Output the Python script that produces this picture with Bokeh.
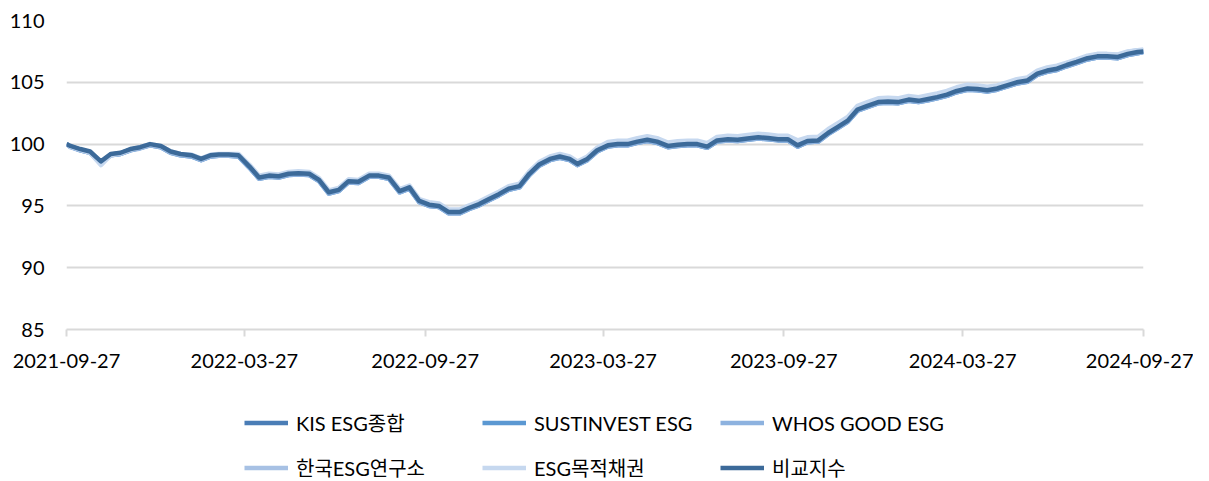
import pandas as pd
from bokeh.plotting import figure
from bokeh.layouts import column
from bokeh.models import Range1d, FixedTicker, Legend, LegendItem
from bokeh.embed import file_html
from bokeh.resources import INLINE

# ---------------- data ----------------
START = "2021-09-27"
END = "2024-09-27"
MONTHS = [(2021, m) for m in (10, 11, 12)] + [(2022, m) for m in range(1, 13)] + \
         [(2023, m) for m in range(1, 13)] + [(2024, m) for m in range(1, 10)]
DATES = [START] + [f"{y}-{m:02d}-{d:02d}" for (y, m) in MONTHS for d in (1, 11, 21)] + [END]

TICK_DATES = ["2021-09-27", "2022-03-27", "2022-09-27", "2023-03-27",
              "2023-09-27", "2024-03-27", "2024-09-27"]
Y_TICKS = [85, 90, 95, 100, 105, 110]

NAMES = ["KIS ESG종합", "SUSTINVEST ESG", "WHOS GOOD ESG", "한국ESG연구소", "ESG목적채권", "비교지수"]
COLORS = ["#4a7db6", "#5b98d2", "#8db2df", "#a7c1e4", "#c6d8ef", "#3c6a99"]

KIS = [100.0, 99.8, 99.55, 99.35, 98.5, 99.15, 99.25, 99.55, 99.7, 99.95,
       99.8, 99.35, 99.15, 99.05, 98.75, 99.05, 99.1, 99.1, 99.05, 98.15,
       97.25, 97.4, 97.35, 97.55, 97.6, 97.55, 97.05, 96.05, 96.25, 96.95,
       96.9, 97.4, 97.4, 97.25, 96.15, 96.45, 95.35, 95.05, 94.95, 94.45,
       94.45, 94.8, 95.1, 95.5, 95.9, 96.35, 96.55, 97.55, 98.3, 98.75,
       98.95, 98.75, 98.35, 98.75, 99.45, 99.85, 99.95, 99.95, 100.15, 100.3,
       100.15, 99.8, 99.9, 99.95, 99.95, 99.75, 100.25, 100.35, 100.3, 100.4,
       100.5, 100.45, 100.35, 100.35, 99.85, 100.2, 100.25, 100.85, 101.35, 101.85,
       102.75, 103.05, 103.35, 103.4, 103.35, 103.55, 103.45, 103.6, 103.75, 103.95,
       104.25, 104.45, 104.4, 104.3, 104.45, 104.7, 104.95, 105.1, 105.65, 105.9,
       106.05, 106.35, 106.6, 106.9, 107.05, 107.05, 107.0, 107.25, 107.4, 107.5]

SUST = [100.0, 99.8, 99.5, 99.3, 98.5, 99.1, 99.2, 99.5, 99.7, 99.9,
        99.75, 99.3, 99.1, 99.0, 98.7, 99.0, 99.05, 99.05, 99.0, 98.1,
        97.2, 97.35, 97.3, 97.5, 97.55, 97.5, 97.0, 96.0, 96.2, 96.9,
        96.85, 97.35, 97.35, 97.2, 96.1, 96.4, 95.3, 95.0, 94.9, 94.4,
        94.4, 94.75, 95.05, 95.45, 95.85, 96.3, 96.5, 97.5, 98.25, 98.7,
        98.9, 98.7, 98.3, 98.7, 99.4, 99.8, 99.9, 99.9, 100.1, 100.25,
        100.1, 99.75, 99.85, 99.9, 99.9, 99.7, 100.2, 100.3, 100.25, 100.35,
        100.45, 100.4, 100.3, 100.3, 99.8, 100.15, 100.2, 100.8, 101.3, 101.8,
        102.7, 103.0, 103.3, 103.35, 103.3, 103.5, 103.4, 103.55, 103.7, 103.9,
        104.2, 104.4, 104.35, 104.25, 104.4, 104.65, 104.9, 105.05, 105.6, 105.85,
        106.0, 106.3, 106.55, 106.85, 107.0, 107.0, 106.95, 107.2, 107.35, 107.45]

WHOS = [100.0, 99.75, 99.5, 99.3, 98.45, 99.1, 99.2, 99.5, 99.65, 99.9,
        99.75, 99.3, 99.1, 99.0, 98.7, 99.0, 99.05, 99.05, 99.0, 98.1,
        97.2, 97.35, 97.3, 97.5, 97.55, 97.5, 97.0, 96.0, 96.2, 96.9,
        96.85, 97.35, 97.35, 97.2, 96.1, 96.4, 95.3, 95.0, 94.9, 94.4,
        94.4, 94.75, 95.05, 95.45, 95.85, 96.3, 96.5, 97.5, 98.25, 98.7,
        98.9, 98.7, 98.3, 98.7, 99.4, 99.8, 99.9, 99.9, 100.1, 100.25,
        100.1, 99.75, 99.85, 99.9, 99.9, 99.7, 100.2, 100.3, 100.25, 100.35,
        100.45, 100.4, 100.3, 100.3, 99.8, 100.15, 100.2, 100.8, 101.3, 101.8,
        102.7, 103.0, 103.3, 103.35, 103.3, 103.5, 103.4, 103.55, 103.7, 103.9,
        104.2, 104.4, 104.35, 104.25, 104.4, 104.65, 104.9, 105.05, 105.6, 105.85,
        106.0, 106.3, 106.55, 106.85, 107.0, 107.0, 106.95, 107.2, 107.35, 107.45]

KOREA = [100.0, 99.8, 99.55, 99.35, 98.4, 99.15, 99.25, 99.55, 99.7, 99.95,
         99.8, 99.35, 99.15, 99.1, 98.75, 99.05, 99.1, 99.1, 99.1, 98.28,
         97.38, 97.53, 97.48, 97.68, 97.73, 97.68, 97.18, 96.18, 96.38, 97.08,
         97.03, 97.53, 97.53, 97.38, 96.28, 96.58, 95.48, 95.2, 95.1, 94.6,
         94.6, 94.95, 95.25, 95.65, 96.05, 96.5, 96.7, 97.7, 98.45, 98.9,
         99.1, 98.9, 98.5, 98.9, 99.6, 100.05, 100.15, 100.15, 100.35, 100.5,
         100.35, 100.0, 100.1, 100.15, 100.15, 99.95, 100.45, 100.55, 100.5, 100.6,
         100.7, 100.65, 100.55, 100.55, 100.1, 100.4, 100.45, 101.05, 101.55, 102.05,
         102.95, 103.25, 103.55, 103.6, 103.55, 103.75, 103.65, 103.8, 103.95, 104.15,
         104.45, 104.65, 104.6, 104.5, 104.65, 104.9, 105.15, 105.3, 105.85, 106.1,
         106.25, 106.55, 106.8, 107.1, 107.25, 107.25, 107.2, 107.45, 107.6, 107.6]

PURPOSE = [100.0, 99.8, 99.55, 99.3, 98.3, 99.1, 99.25, 99.55, 99.75, 100.0,
           99.85, 99.4, 99.2, 99.15, 98.85, 99.15, 99.2, 99.2, 99.2, 98.35,
           97.45, 97.6, 97.55, 97.75, 97.8, 97.75, 97.25, 96.25, 96.45, 97.15,
           97.1, 97.6, 97.6, 97.45, 96.35, 96.65, 95.55, 95.3, 95.2, 94.7,
           94.7, 95.05, 95.35, 95.75, 96.15, 96.6, 96.8, 97.8, 98.55, 99.0,
           99.2, 99.0, 98.6, 99.0, 99.7, 100.18, 100.28, 100.28, 100.48, 100.63,
           100.48, 100.13, 100.23, 100.28, 100.28, 100.08, 100.58, 100.68, 100.63, 100.73,
           100.83, 100.78, 100.68, 100.68, 100.3, 100.55, 100.6, 101.2, 101.7, 102.2,
           103.1, 103.4, 103.7, 103.75, 103.7, 103.9, 103.8, 103.95, 104.1, 104.3,
           104.6, 104.8, 104.75, 104.65, 104.75, 105.0, 105.25, 105.4, 105.95, 106.2,
           106.35, 106.6, 106.85, 107.15, 107.3, 107.3, 107.25, 107.5, 107.6, 107.65]

BENCH = [100.0, 99.85, 99.6, 99.4, 98.6, 99.2, 99.3, 99.6, 99.75, 100.0,
         99.85, 99.4, 99.2, 99.1, 98.8, 99.1, 99.15, 99.15, 99.1, 98.2,
         97.3, 97.45, 97.4, 97.6, 97.65, 97.6, 97.1, 96.1, 96.3, 97.0,
         96.95, 97.45, 97.45, 97.3, 96.2, 96.5, 95.4, 95.1, 95.0, 94.5,
         94.5, 94.85, 95.15, 95.55, 95.95, 96.4, 96.6, 97.6, 98.35, 98.8,
         99.0, 98.8, 98.4, 98.8, 99.5, 99.9, 100.0, 100.0, 100.2, 100.35,
         100.2, 99.85, 99.95, 100.0, 100.0, 99.8, 100.3, 100.4, 100.35, 100.45,
         100.55, 100.5, 100.4, 100.4, 99.9, 100.25, 100.3, 100.9, 101.4, 101.9,
         102.8, 103.1, 103.4, 103.45, 103.4, 103.6, 103.5, 103.65, 103.8, 104.0,
         104.3, 104.5, 104.45, 104.35, 104.5, 104.75, 105.0, 105.15, 105.7, 105.95,
         106.1, 106.4, 106.65, 106.95, 107.1, 107.1, 107.05, 107.3, 107.45, 107.5]

SERIES = [KIS, SUST, WHOS, KOREA, PURPOSE, BENCH]

# ---------------- plot ----------------
def ms(d):
    return pd.Timestamp(d).value / 1e6

X = [ms(d) for d in DATES]
FONT = "Lato, 'Noto Sans CJK KR'"

p = figure(width=1193, height=380, output_backend="svg", toolbar_location=None,
           x_range=Range1d(ms(START), ms(END)), y_range=Range1d(85, 110),
           min_border_left=66, min_border_right=50, min_border_top=20, min_border_bottom=51)
p.outline_line_color = None
p.background_fill_color = "white"
p.border_fill_color = "white"

for vals, col in zip(SERIES, COLORS):
    p.line(X, vals, line_color=col, line_width=4.5, line_join="round")

# y axis
p.yaxis.ticker = FixedTicker(ticks=Y_TICKS)
p.yaxis.axis_line_color = None
p.yaxis.major_tick_line_color = None
p.yaxis.minor_tick_line_color = None
p.yaxis.major_label_standoff = 16
p.yaxis.major_label_text_font = FONT
p.yaxis.major_label_text_font_size = "20px"
p.yaxis.major_label_text_color = "#000000"

# x axis
tick_ms = [ms(t) for t in TICK_DATES]
p.xaxis.ticker = FixedTicker(ticks=tick_ms)
p.xaxis.major_label_overrides = {t: lbl for t, lbl in zip(tick_ms, TICK_DATES)}
p.xaxis.axis_line_color = "#d9d9d9"
p.xaxis.axis_line_width = 2
p.xaxis.major_tick_line_color = "#d9d9d9"
p.xaxis.major_tick_line_width = 2
p.xaxis.major_tick_in = 0
p.xaxis.major_tick_out = 7
p.xaxis.minor_tick_line_color = None
p.xaxis.major_label_standoff = 17
p.xaxis.major_label_text_font = FONT
p.xaxis.major_label_text_font_size = "20px"
p.xaxis.major_label_text_color = "#000000"

p.xgrid.grid_line_color = None
p.ygrid.grid_line_color = "#d9d9d9"
p.ygrid.grid_line_width = 2

# ---------------- legend strip ----------------
# same series drawn again, but out of this strip's view; only their legend swatches show
leg_fig = figure(width=1193, height=101, output_backend="svg", toolbar_location=None,
                 x_range=Range1d(0, 1), y_range=Range1d(0, 1),
                 x_axis_location=None, y_axis_location=None,
                 min_border_left=66, min_border_right=50, min_border_top=0, min_border_bottom=0)
leg_fig.outline_line_color = None
leg_fig.xgrid.grid_line_color = None
leg_fig.ygrid.grid_line_color = None
leg_fig.border_fill_color = "white"
leg_fig.background_fill_color = "white"

leg_renderers = [leg_fig.line(X, vals, line_color=c, line_width=4.5)
                 for vals, c in zip(SERIES, COLORS)]
legend = Legend(items=[LegendItem(label=n, renderers=[r]) for n, r in zip(NAMES, leg_renderers)],
                location=(178, -9), orientation="horizontal", ncols=3)
legend.background_fill_alpha = 0
legend.border_line_color = None
legend.padding = 0
legend.margin = 0
legend.spacing = 0
legend.glyph_width = 44
legend.glyph_height = 45
legend.label_height = 45
legend.label_width = 186
legend.label_standoff = 8
legend.label_text_font = FONT
legend.label_text_font_size = "20px"
legend.label_text_color = "#000000"
legend.label_text_baseline = "middle"
leg_fig.add_layout(legend)

layout = column(p, leg_fig, spacing=0)
open("out.html", "w").write(file_html(layout, INLINE))
